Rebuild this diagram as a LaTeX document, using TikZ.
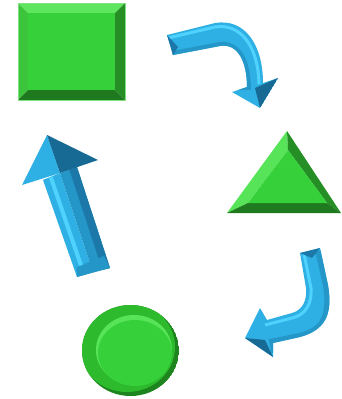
\documentclass[tikz,border=0pt]{standalone}
\usetikzlibrary{calc}
\begin{document}
\definecolor{gFace}{HTML}{36D03A}
\definecolor{gTop}{HTML}{5EE65E}
\definecolor{gLeft}{HTML}{3CC43C}
\definecolor{gRight}{HTML}{258F25}
\definecolor{gBottom}{HTML}{1F7A1F}
\definecolor{gLine}{HTML}{7EE07E}
\definecolor{gRim}{HTML}{2DBA2D}
\definecolor{gRimDark}{HTML}{1E851E}
\definecolor{gHi}{HTML}{58E458}
\definecolor{bMain}{HTML}{2FB0E4}
\definecolor{bMid}{HTML}{2496C8}
\definecolor{bDark}{HTML}{1B78A8}
\definecolor{bLight}{HTML}{50D2FF}
\definecolor{bDeep}{HTML}{176A94}
\begin{tikzpicture}[x=1pt,y=-1pt,line join=round]
\useasboundingbox (0,0) rectangle (341,399);
% ---------- square ----------
\coordinate (sq1) at (18,3); \coordinate (sq2) at (125,3);
\coordinate (sq3) at (125,100); \coordinate (sq4) at (18,100);
\coordinate (si1) at (28,13); \coordinate (si2) at (115,13);
\coordinate (si3) at (115,90); \coordinate (si4) at (28,90);
\fill[gTop] (sq1) -- (sq2) -- (si2) -- (si1) -- cycle;
\fill[gLeft] (sq1) -- (si1) -- (si4) -- (sq4) -- cycle;
\fill[gRight] (sq2) -- (sq3) -- (si3) -- (si2) -- cycle;
\fill[gBottom] (sq4) -- (si4) -- (si3) -- (sq3) -- cycle;
\fill[gFace] (si1) rectangle (si3);
\draw[gLine,line width=0.6pt] (sq1) rectangle (sq3);
% ---------- triangle ----------
\coordinate (tA) at (287,131); \coordinate (tB) at (227,213); \coordinate (tC) at (341,213);
\coordinate (ta) at (288,150); \coordinate (tb) at (248,203); \coordinate (tc) at (327,203);
\fill[gHi] (tA) -- (tB) -- (tb) -- (ta) -- cycle;
\fill[gRight] (tA) -- (tC) -- (tc) -- (ta) -- cycle;
\fill[gBottom] (tB) -- (tC) -- (tc) -- (tb) -- cycle;
\fill[gFace] (ta) -- (tb) -- (tc) -- cycle;
% ---------- circle ----------
\begin{scope}
\clip (130.5,350.5) ellipse [x radius=48.5, y radius=45.5];
\fill[gRimDark] (130.5,350.5) ellipse [x radius=48.5, y radius=45.5];
\fill[gRim] (127,347) ellipse [x radius=48, y radius=45];
\end{scope}
\fill[gHi] (134,350) ellipse [x radius=38, y radius=35];
\fill[gFace] (135,353) ellipse [x radius=37, y radius=33];
% ---------- arrow 1 (top, curved) ----------
\def\arrowA{(167,35) -- (173,55) -- (220,46) .. controls (238,43) and (247,62) .. (247,87)
  -- (232,92) -- (260,108) -- (278,78) -- (263,83) .. controls (263,45) and (245,18) .. (215,23) -- cycle}
\fill[bMain] \arrowA;
\begin{scope}
\clip \arrowA;
\draw[bMid,line width=12pt] (173,57) -- (220,48) .. controls (236,46) and (245,62) .. (245,90);
\draw[bLight,line width=3pt] (168,38) -- (215,27) .. controls (240,23) and (258,45) .. (259,84);
\fill[bDark] (167,35) -- (173,55) -- (178,47) -- cycle;
\fill[bDeep] (260,108) -- (278,78) -- (255,88) -- cycle;
\end{scope}
% ---------- arrow 2 (right, curved) ----------
\def\arrowB{(300,253) -- (320,248) -- (328,285) .. controls (333,315) and (325,330) .. (300,337)
  -- (273,343) -- (273,357) -- (245,338) -- (260,308) -- (267,320) -- (292,313)
  .. controls (303,310) and (307,300) .. (306,288) -- cycle}
\fill[bMain] \arrowB;
\begin{scope}
\clip \arrowB;
\draw[bMid,line width=14pt] (322,250) -- (330,285) .. controls (335,318) and (326,334) .. (300,340) -- (270,346);
\draw[bLight,line width=3pt] (304,254) -- (311,288) .. controls (312,305) and (305,315) .. (292,318) -- (265,325);
\fill[bDark] (300,253) -- (320,248) -- (312,258) -- cycle;
\fill[bDeep] (245,338) -- (273,357) -- (265,340) -- cycle;
\end{scope}
% ---------- arrow 3 (left, straight up) ----------
\coordinate (cBL) at (77,277); \coordinate (cBR) at (110,268);
\coordinate (cBM) at (93,272); \coordinate (cTM) at (60,173);
\coordinate (cTL) at (43,180); \coordinate (cTR) at (77,167);
\coordinate (cLW) at (22,185); \coordinate (cTip) at (47,135); \coordinate (cRW) at (98,160);
\fill[bMain] (cBL) -- (cTL) -- (cTM) -- (cBM) -- cycle;
\fill[bMid] (cBM) -- (cTM) -- (cTR) -- (cBR) -- cycle;
\fill[bDark] ($(cBM)!0.55!(cBR)$) -- ($(cTM)!0.55!(cTR)$) -- (cTR) -- (cBR) -- cycle;
\draw[bLight,line width=4pt] ($(cBL)!0.45!(cBM)$) -- ($(cTL)!0.45!(cTM)$);
\fill[bMid] (cBL) -- (cBR) -- ($(cBR)!0.12!(cTR)+(-2,0)$) -- ($(cBL)!0.1!(cTL)+(3,0)$) -- cycle;
\fill[bMain] (cLW) -- (cTip) -- (cTM) -- cycle;
\fill[bDeep] (cTip) -- (cRW) -- (cTM) -- cycle;
\end{tikzpicture}
\end{document}
